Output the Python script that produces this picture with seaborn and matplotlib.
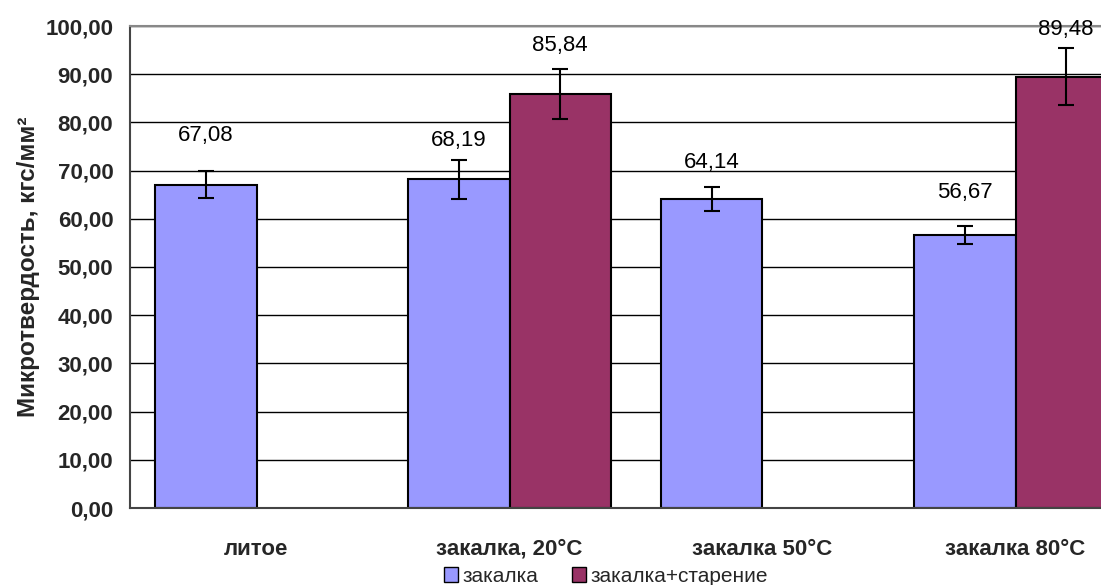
import numpy as np
import pandas as pd
import seaborn as sns
from matplotlib import pyplot as plt
from matplotlib.patches import Patch

categories = ['литое', 'закалка, 20°C', 'закалка 50°C', 'закалка 80°C']
series = ['закалка', 'закалка+старение']
quench = [67.08, 68.19, 64.14, 56.67]
aged = [np.nan, 85.84, np.nan, 89.48]
quench_err = [2.8, 4.0, 2.5, 1.8]
aged_err = [np.nan, 5.2, np.nan, 5.9]

df = pd.DataFrame({
    'cat': categories * 2,
    'type': [series[0]] * 4 + [series[1]] * 4,
    'val': quench + aged,
    'err': quench_err + aged_err,
})

sns.set_style('white')
plt.rcParams['font.family'] = ['Liberation Sans', 'DejaVu Sans']
colors = ['#9999FF', '#993366']

fig = plt.figure(figsize=(11.01, 5.85), dpi=100)
ax = fig.add_axes([130/1101, 77/585, 1012/1101, 482/585])
ax.yaxis.grid(True, color='black', linewidth=1, zorder=0)
ax.set_axisbelow(True)

sns.barplot(data=df, x='cat', y='val', hue='type', order=categories, hue_order=series,
            palette=colors, saturation=1, width=0.8, edgecolor='black', linewidth=1.5,
            errorbar=None, legend=False, ax=ax)

# error bars and value labels at the bar centres
label_off = {(0, 0): 10.2, (0, 1): 8.1, (1, 1): 10.2, (0, 2): 7.5, (0, 3): 8.7, (1, 3): 9.8}
bar_groups = list(ax.containers)
for h, cont in enumerate(bar_groups):
    vals = quench if h == 0 else aged
    errs = quench_err if h == 0 else aged_err
    for bar in cont.patches:
        xc = bar.get_x() + bar.get_width() / 2
        i = int(round(xc))
        if np.isnan(vals[i]):
            continue
        ax.errorbar(xc, vals[i], yerr=errs[i], fmt='none', ecolor='black',
                    elinewidth=1.5, capsize=6, capthick=1.5, zorder=5)
        ax.text(xc, vals[i] + label_off[(h, i)], f'{vals[i]:.2f}'.replace('.', ','),
                ha='center', va='center', fontsize=16, color='black')

ax.set_ylim(0, 100)
ax.set_yticks(np.arange(0, 101, 10))
ax.set_yticklabels([f'{v:.2f}'.replace('.', ',') for v in range(0, 101, 10)],
                   fontsize=16, fontweight='bold')
ax.set_xticks(range(4))
ax.set_xticklabels(categories, fontsize=16, fontweight='bold')
ax.set_xticks(np.arange(-0.5, 4, 1), minor=True)
ax.tick_params(axis='x', which='major', length=0, pad=22)
ax.tick_params(axis='x', which='minor', length=6, width=1.2, color='#444444')
ax.tick_params(axis='y', length=6, width=1.2, color='#444444', pad=6)
ax.set_xlim(-0.5, 3.5)
ax.set_xlabel('')
ax.set_ylabel('Микротвердость, кгс/мм²', fontsize=17.5, fontweight='bold', labelpad=4)

ax.spines['right'].set_visible(False)
ax.spines['top'].set_color('#888888')
ax.spines['top'].set_linewidth(1.5)
for s in ['left', 'bottom']:
    ax.spines[s].set_color('#444444')
    ax.spines[s].set_linewidth(1.5)

handles = [Patch(facecolor=c, edgecolor='black', linewidth=1) for c in colors]
fig.legend(handles, series, loc='center', bbox_to_anchor=(606/1101, 1 - 576/585),
           ncol=2, frameon=False, fontsize=15, handlelength=0.7, handleheight=0.7,
           handletextpad=0.2, columnspacing=1.6)

plt.savefig('out.png', dpi=100)
